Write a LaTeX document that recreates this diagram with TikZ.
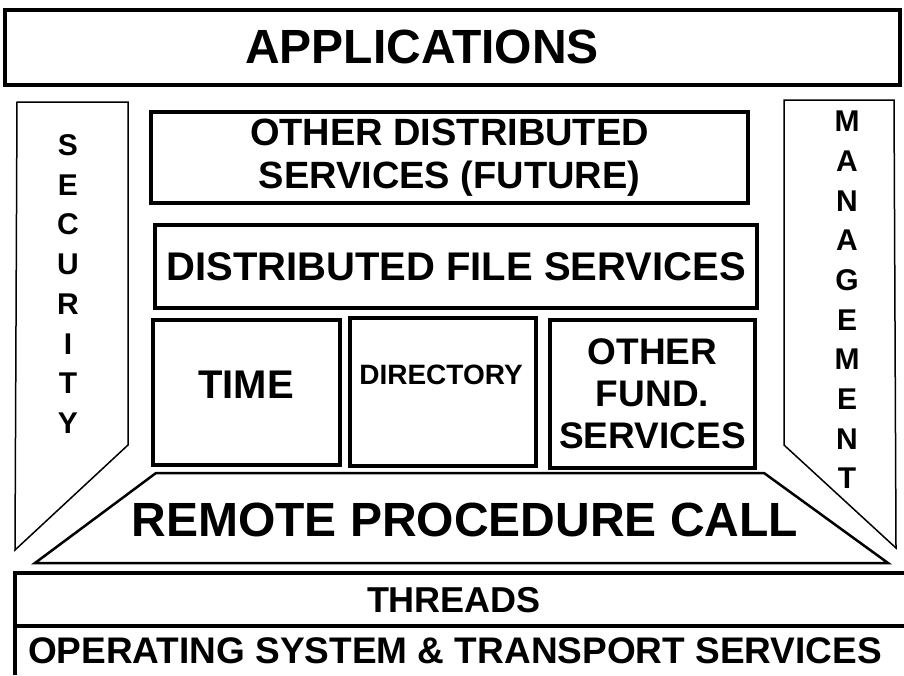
\documentclass[tikz,border=0pt]{standalone}
\usepackage{fontspec}
\setmainfont{Liberation Sans}
\usetikzlibrary{positioning}
\tikzset{
  layer/.style={rectangle, draw, line width=3.5pt, inner sep=0pt, align=center, font=\bfseries\fontsize{38}{43}\selectfont},
  side/.style={draw, line width=1.5pt, line join=miter},
  rpc/.style={draw, line width=2.5pt, line join=miter},
  vword/.style={align=center, inner sep=0pt, font=\bfseries\fontsize{30}{39.7}\selectfont},
  bigtext/.style={inner sep=0pt, font=\bfseries\fontsize{48}{52}\selectfont},
}
\begin{document}
\begin{tikzpicture}[x=1pt, y=-1pt]
    \useasboundingbox (0,0) rectangle (904,675);

    % Applications layer
    \node[layer, minimum width=895pt, minimum height=75pt] (apps) at (452.5,47.5) {};
    \node[bigtext] (appstext) at (422,47) {APPLICATIONS};

    % Security and management bands
    \draw[side] (17,102) -- (128,102) -- (128,445) -- (15,550) -- cycle;
    \node[vword] (security) at (68,284) {S\\E\\C\\U\\R\\I\\T\\Y};
    \draw[side] (784,100) -- (894,100) -- (896,548) -- (784,445) -- cycle;
    \node[vword] (management) at (847,300) {M\\A\\N\\A\\G\\E\\M\\E\\N\\T};

    % Distributed services
    \node[layer, minimum width=597pt, minimum height=91pt] (future) at (449.5,157.5) {OTHER DISTRIBUTED\\SERVICES (FUTURE)};
    \node[layer, minimum width=602pt, minimum height=83pt, font=\bfseries\fontsize{40}{44}\selectfont] (dfs) at (456,266.5) {DISTRIBUTED FILE SERVICES};

    % Fundamental services
    \node[layer, minimum width=187pt, minimum height=145pt] (time) at (246.5,392.5) {};
    \node[font=\bfseries\fontsize{40}{44}\selectfont, inner sep=0pt] (timetext) at (246,385) {TIME};
    \node[layer, minimum width=186pt, minimum height=148pt] (dir) at (443,392) {};
    \node[font=\bfseries\fontsize{28}{32}\selectfont, inner sep=0pt] (dirtext) at (441,375) {DIRECTORY};
    \node[layer, minimum width=205pt, minimum height=148pt, font=\bfseries\fontsize{37}{42}\selectfont] (fund) at (652.5,394) {OTHER\\FUND.\\SERVICES};

    % Remote procedure call
    \draw[rpc] (156,473) -- (764,473) -- (888,563) -- (35,563) -- cycle;
    \node[bigtext] (rpctext) at (465,520) {REMOTE PROCEDURE CALL};

    % Threads and operating system
    \draw[line width=4pt] (904,573) -- (15,573) -- (15,675);
    \draw[line width=4pt] (15,626) -- (904,626);
    \node[font=\bfseries\fontsize{36}{40}\selectfont, inner sep=0pt] (threads) at (454,600) {THREADS};
    \node[font=\bfseries\fontsize{37}{40}\selectfont, inner sep=0pt] (os) at (455,651) {OPERATING SYSTEM \& TRANSPORT SERVICES};
\end{tikzpicture}
\end{document}
